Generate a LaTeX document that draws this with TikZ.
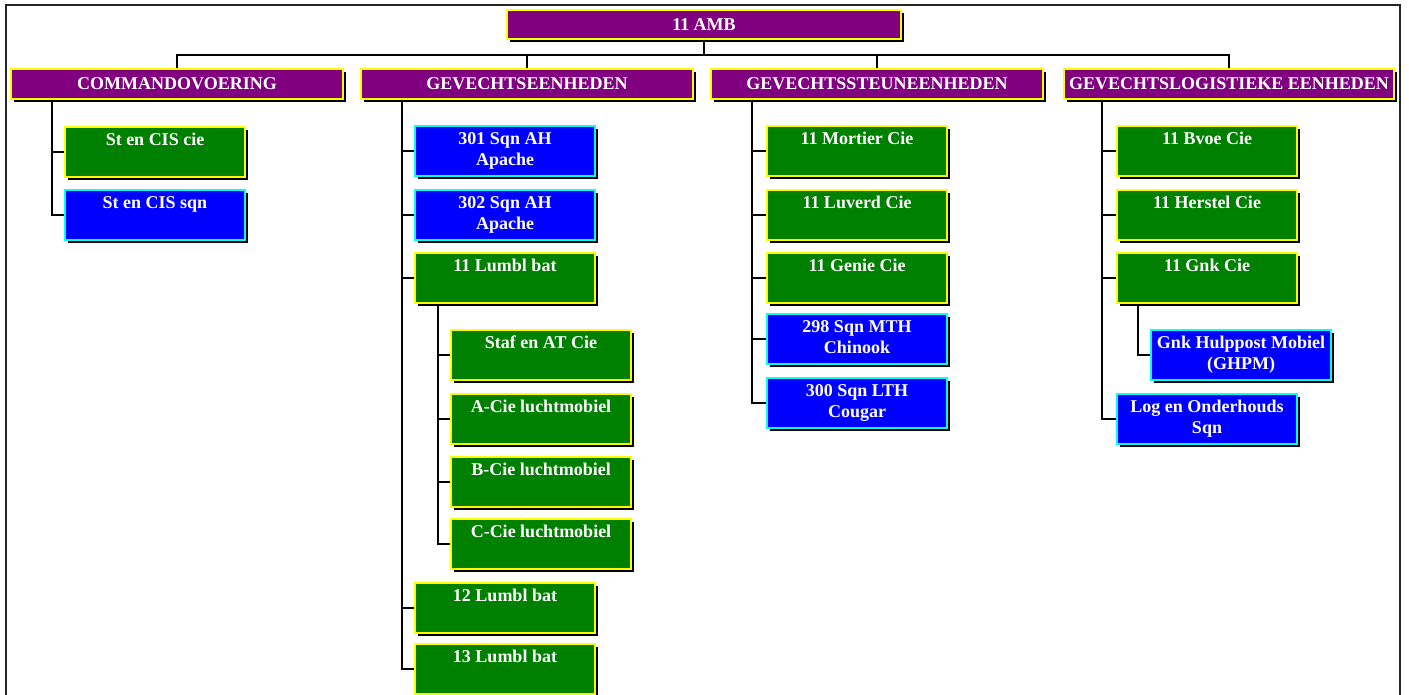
\documentclass[tikz,border=0pt]{standalone}
\usepackage{fontspec}
\setmainfont{Liberation Serif}
\usetikzlibrary{shadows}
\definecolor{orgpurple}{RGB}{128,0,128}
\definecolor{orggreen}{RGB}{0,128,0}
\definecolor{orgblue}{RGB}{0,0,255}
\definecolor{orgyellow}{RGB}{255,255,0}
\definecolor{orgcyan}{RGB}{0,255,255}
\tikzset{
 boxbase/.style={rectangle, line width=2pt, text=white, font=\fontsize{18}{21}\selectfont\bfseries, align=center, inner sep=0pt, anchor=north west, drop shadow={shadow xshift=3pt, shadow yshift=-3pt, opacity=1, fill=black}},
 catbox/.style={boxbase, fill=orgpurple, draw=orgyellow, minimum height=30pt},
 greenbox/.style={boxbase, fill=orggreen, draw=orgyellow, minimum width=180pt, minimum height=50pt},
 bluebox/.style={boxbase, fill=orgblue, draw=orgcyan, minimum width=180pt, minimum height=50pt},
 link/.style={line width=1.5pt, black},
}
\newcommand\twolines[2]{\strut#1\\\strut#2}
\begin{document}
\begin{tikzpicture}[x=1pt,y=-1pt]
\useasboundingbox (0,0) rectangle (1409,695);
\draw[line width=1.5pt, black!85] (6,695) -- (6,5) -- (1400,5) -- (1400,695);

% connectors (drawn first)
\coordinate (dummy) at (0,0);

% top and categories
\node[catbox, minimum width=394pt, minimum height=29pt] (amb) at (506,9) {11 AMB};
\node[catbox, minimum width=332pt] (cmd) at (10,68) {COMMANDOVOERING};
\node[catbox, minimum width=332pt] (gev) at (360,68) {GEVECHTSEENHEDEN};
\node[catbox, minimum width=332pt] (gss) at (710,68) {GEVECHTSSTEUNEENHEDEN};
\node[catbox, minimum width=330pt] (gle) at (1063,68) {GEVECHTSLOGISTIEKE EENHEDEN};

% commandovoering
\node[greenbox] (c1) at (64,126) {\twolines{St en CIS cie}{}};
\node[bluebox]  (c2) at (64,189) {\twolines{St en CIS sqn}{}};

% gevechtseenheden
\node[bluebox]  (g1) at (414,125) {\twolines{301 Sqn AH}{Apache}};
\node[bluebox]  (g2) at (414,189) {\twolines{302 Sqn AH}{Apache}};
\node[greenbox] (g3) at (414,252) {\twolines{11 Lumbl bat}{}};
\node[greenbox] (s1) at (450,329) {\twolines{Staf en AT Cie}{}};
\node[greenbox] (s2) at (450,393) {\twolines{A-Cie luchtmobiel}{}};
\node[greenbox] (s3) at (450,456) {\twolines{B-Cie luchtmobiel}{}};
\node[greenbox] (s4) at (450,518) {\twolines{C-Cie luchtmobiel}{}};
\node[greenbox] (g4) at (414,582) {\twolines{12 Lumbl bat}{}};
\node[greenbox] (g5) at (414,643) {\twolines{13 Lumbl bat}{}};

% gevechtssteuneenheden
\node[greenbox] (t1) at (766,125) {\twolines{11 Mortier Cie}{}};
\node[greenbox] (t2) at (766,189) {\twolines{11 Luverd Cie}{}};
\node[greenbox] (t3) at (766,252) {\twolines{11 Genie Cie}{}};
\node[bluebox]  (t4) at (766,313) {\twolines{298 Sqn MTH}{Chinook}};
\node[bluebox]  (t5) at (766,377) {\twolines{300 Sqn LTH}{Cougar}};

% gevechtslogistieke eenheden
\node[greenbox] (l1) at (1116,125) {\twolines{11 Bvoe Cie}{}};
\node[greenbox] (l2) at (1116,189) {\twolines{11 Herstel Cie}{}};
\node[greenbox] (l3) at (1116,252) {\twolines{11 Gnk Cie}{}};
\node[bluebox]  (l3a) at (1150,329) {\twolines{Gnk Hulppost Mobiel}{(GHPM)}};
\node[bluebox]  (l4) at (1116,393) {\twolines{Log en Onderhouds}{Sqn}};

% bus
\foreach \c in {cmd,gev,gss,gle}
  \draw[link] (amb.south) -- ++(0,15) -| (\c.north);

\foreach \c in {c1,c2}
  \draw[link] ([xshift=42pt]cmd.south west) |- (\c.west);
\foreach \c in {g1,g2,g3,g4,g5}
  \draw[link] ([xshift=42pt]gev.south west) |- (\c.west);
\foreach \c in {s1,s2,s3,s4}
  \draw[link] ([xshift=24pt]g3.south west) |- (\c.west);
\foreach \c in {t1,t2,t3,t4,t5}
  \draw[link] ([xshift=42pt]gss.south west) |- (\c.west);
\foreach \c in {l1,l2,l3,l4}
  \draw[link] ([xshift=39pt]gle.south west) |- (\c.west);
\draw[link] ([xshift=22pt]l3.south west) |- (l3a.west);
\end{tikzpicture}
\end{document}
